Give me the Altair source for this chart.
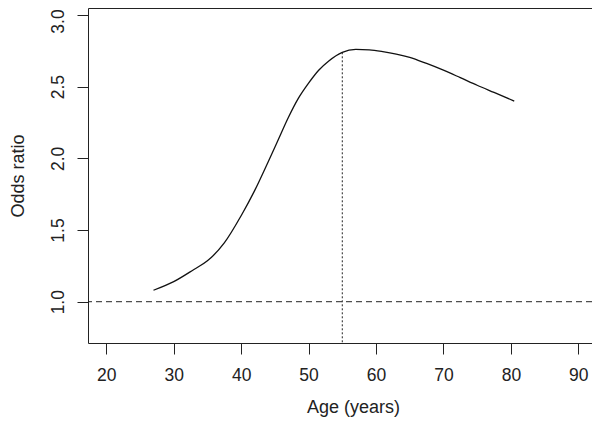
import altair as alt
import pandas as pd

# Curve: odds ratio by age
ages = [27, 30, 33, 35, 37.5, 40, 42, 44, 45.5, 47, 48.5, 50, 51.5, 53, 55,
        57, 59, 61, 63, 65, 67.5, 70, 72.5, 75, 77.5, 80.5]
odds = [1.08, 1.14, 1.225, 1.285, 1.41, 1.60, 1.775, 1.975, 2.13, 2.285,
        2.42, 2.525, 2.615, 2.68, 2.74, 2.76, 2.757, 2.745, 2.728, 2.705,
        2.662, 2.615, 2.563, 2.51, 2.46, 2.40]

x_ticks = [20, 30, 40, 50, 60, 70, 80, 90]
y_ticks = [1.0, 1.5, 2.0, 2.5, 3.0]
x_domain = [17.29, 92.03]
y_domain = [0.712, 3.049]

ref_or = [1.0]          # horizontal reference line
peak_age = [55]          # vertical marker
peak_or = [2.74]

curve_df = pd.DataFrame({"age": ages, "or": odds})
href_df = pd.DataFrame({"or": ref_or})
vline_df = pd.DataFrame({"age": peak_age, "top": peak_or,
                         "bottom": [y_domain[0]]})

FONT = "Liberation Sans"
INK = "#222222"

xscale = alt.Scale(domain=x_domain, nice=False, zero=False)
yscale = alt.Scale(domain=y_domain, nice=False, zero=False)

xaxis = alt.Axis(values=x_ticks, grid=False, domain=False, tickColor=INK,
                 tickSize=11, tickWidth=1, labelFontSize=17.5, labelFont=FONT,
                 labelColor=INK, labelPadding=12, title="Age (years)",
                 titleFont=FONT, titleFontSize=18, titleFontWeight="normal",
                 titleColor=INK, titleX=265, titleY=69,
                 titleBaseline="alphabetic", labelFlush=False)
yaxis = alt.Axis(values=y_ticks, format=".1f", grid=False, domain=False,
                 tickColor=INK, tickSize=11, tickWidth=1, labelFontSize=17.5,
                 labelFont=FONT, labelColor=INK, labelAngle=270,
                 labelAlign="center", labelBaseline="alphabetic",
                 labelPadding=14, title="Odds ratio", titleFont=FONT,
                 titleFontSize=18, titleFontWeight="normal", titleColor=INK,
                 titleX=-65, titleBaseline="alphabetic", labelFlush=False,
                 labelOffset={"condition": {"test": "datum.value >= 3",
                                            "value": 6}, "value": 0})

curve = alt.Chart(curve_df).mark_line(
    color="#111111", strokeWidth=1.3, interpolate="monotone"
).encode(
    x=alt.X("age:Q", scale=xscale, axis=xaxis),
    y=alt.Y("or:Q", scale=yscale, axis=yaxis),
)

href = alt.Chart(href_df).mark_rule(
    color="#222222", strokeWidth=1, strokeDash=[6, 4]
).encode(y=alt.Y("or:Q", scale=yscale))

vline = alt.Chart(vline_df).mark_rule(
    color="#222222", strokeWidth=1, strokeDash=[2, 2]
).encode(
    x=alt.X("age:Q", scale=xscale),
    y=alt.Y("top:Q", scale=yscale),
    y2="bottom:Q",
)

chart = alt.layer(href, vline, curve).properties(
    width=504,
    height=335,
    autosize=alt.AutoSizeParams(type="none"),
    padding={"left": 80, "top": 0, "right": 0, "bottom": 74},
    background="white",
).configure_view(stroke=INK, strokeWidth=1)

chart.save("out.html", embed_options={"renderer": "svg", "actions": False})
